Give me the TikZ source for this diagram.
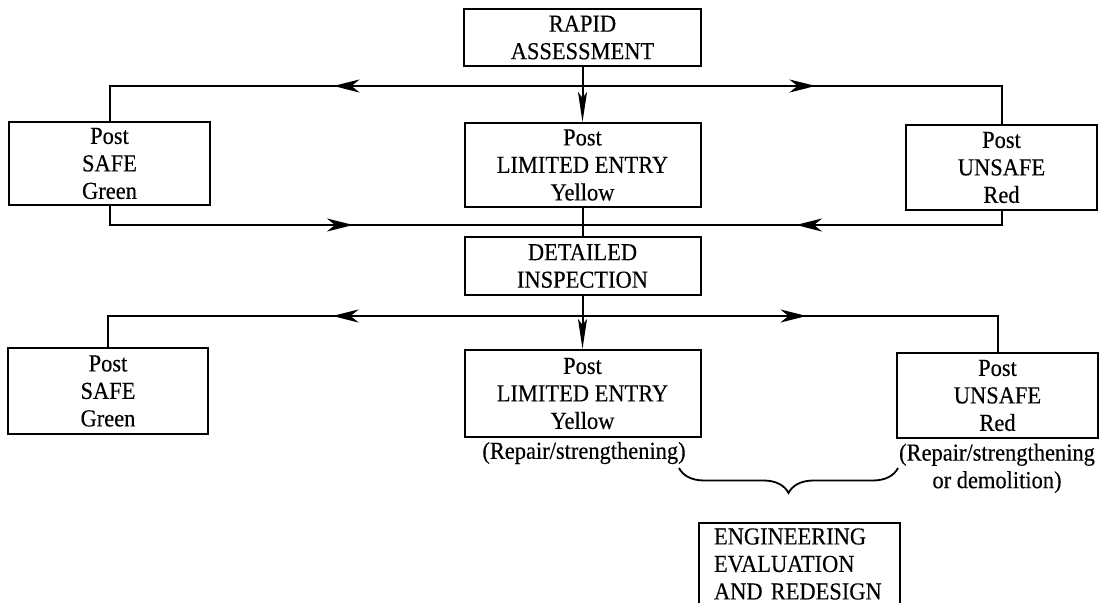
\documentclass[tikz,border=0pt]{standalone}
\usepackage{fontspec}
\setmainfont[FakeStretch=0.92,FakeBold=0.3]{Liberation Serif}
\usetikzlibrary{arrows.meta,decorations.markings,decorations.pathreplacing}
\tikzset{
  txt/.style={align=center,inner sep=0pt,font=\fontsize{12.2}{13.75}\selectfont},
  box/.style={txt,draw,line width=1pt},
  wire/.style={line width=1pt},
  midtip/.style={postaction={decorate},decoration={markings,
      mark=at position #1 with {\arrow{Stealth[length=13pt,width=6.5pt,inset=4pt]}}}},
  downtip/.style={-{Stealth[length=15pt,width=4.5pt,inset=3pt]}},
}

\begin{document}
\begin{tikzpicture}[x=0.5pt,y=-0.5pt]
  \clip (0,0) rectangle (1103,603);
  % first stage
  \node[box,minimum width=118.5pt,minimum height=28.5pt] (rapid) at (582.5,37.5) {RAPID\\ASSESSMENT};
  \node[box,minimum width=100.5pt,minimum height=41.5pt] (safe) at (109.5,163.5) {Post\\SAFE\\Green};
  \node[box,minimum width=118pt,minimum height=42pt] (limited) at (582.5,165) {Post\\LIMITED ENTRY\\Yellow};
  \node[box,minimum width=95.5pt,minimum height=42.5pt] (unsafe) at (1001.5,167.5) {Post\\UNSAFE\\Red};
  \node[box,minimum width=118pt,minimum height=29pt] (detailed) at (582.5,266) {DETAILED\\INSPECTION};
  % second stage
  \node[box,minimum width=100pt,minimum height=43pt] (safe2) at (108,391) {Post\\SAFE\\Green};
  \node[box,minimum width=118pt,minimum height=43.5pt] (limited2) at (582.5,393.5) {Post\\LIMITED ENTRY\\Yellow};
  \node[box,minimum width=100.5pt,minimum height=42.5pt] (unsafe2) at (997.5,395.5) {Post\\UNSAFE\\Red};
  \node[txt] (repair1) at (584,453) {(Repair/strengthening)};
  \node[txt] (repair2) at (997,468.5) {(Repair/strengthening\\or demolition)};
  \node[box,anchor=north west,minimum width=100.5pt,minimum height=41pt,
        text width=85.5pt,inner xsep=7.5pt,align=left] (engineering) at (698,522)
        {ENGINEERING\\EVALUATION\\AND REDESIGN};

  % connectors
  \coordinate (jt) at (rapid.south |- 0,86);
  \coordinate (jm) at (rapid.south |- 0,225);
  \coordinate (jb) at (rapid.south |- 0,316);
  \draw[wire,downtip] (rapid.south) -- (limited.north);
  \draw[wire,midtip=124.5pt] (jt) -| (safe.north);
  \draw[wire,midtip=116.5pt] (jt) -| (unsafe.north);
  \draw[wire,midtip=131.25pt] (safe.south) |- (jm);
  \draw[wire,midtip=109.75pt] (unsafe.south) |- (jm);
  \draw[wire] (limited.south) -- (detailed.north);
  \draw[wire,downtip] (detailed.south) -- (limited2.north);
  \draw[wire,midtip=125pt] (jb) -| (safe2.north);
  \draw[wire,midtip=112pt] (jb) -| (unsafe2.north);

  % brace to the evaluation box
  \coordinate (braceL) at (679,468);
  \coordinate (braceR) at (898,468);
  \draw[line width=0.9pt,decorate,decoration={brace,mirror,amplitude=12.5pt}] (braceL) -- (braceR);
\end{tikzpicture}
\end{document}
